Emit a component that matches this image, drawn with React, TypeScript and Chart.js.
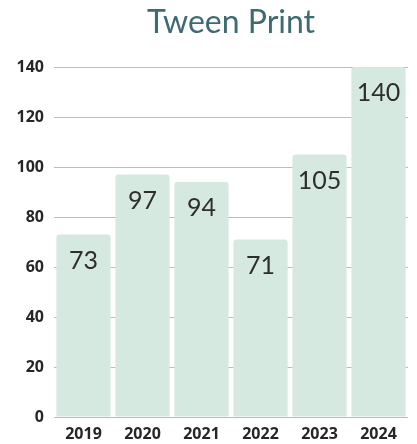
import React, { useEffect, useRef } from "react";
import { Chart, registerables } from "chart.js";

Chart.register(...registerables);

const years = ["2019", "2020", "2021", "2022", "2023", "2024"];
const printCounts = [73, 97, 94, 71, 105, 140];
const yTicks = [0, 20, 40, 60, 80, 100, 120, 140];

const TITLE = "Tween Print";
const BAR_COLOR = "#d5e9e1";
const TITLE_COLOR = "#3e6a72";

const titlePlugin = {
  id: "centredTitle",
  afterDraw(chart: any) {
    const { ctx, chartArea } = chart;
    ctx.save();
    ctx.font = "400 32px Lato, 'Noto Sans', sans-serif";
    ctx.fillStyle = TITLE_COLOR;
    ctx.textAlign = "center";
    ctx.textBaseline = "middle";
    ctx.fillText(TITLE, (chartArea.left + chartArea.right) / 2, 23);
    ctx.restore();
  },
};

const valueLabelPlugin = {
  id: "valueLabels",
  afterDatasetsDraw(chart: any) {
    const { ctx } = chart;
    const meta = chart.getDatasetMeta(0);
    ctx.save();
    ctx.font = "400 25px Lato, 'Noto Sans', sans-serif";
    ctx.fillStyle = "#2e2e2e";
    ctx.textAlign = "center";
    ctx.textBaseline = "middle";
    meta.data.forEach((bar: any, i: number) => {
      ctx.fillText(String(printCounts[i]), bar.x, bar.y + 26);
    });
    ctx.restore();
  },
};

export default function App() {
  const canvasRef = useRef<HTMLCanvasElement | null>(null);

  useEffect(() => {
    document.body.style.margin = "0";
    const canvas = canvasRef.current;
    if (!canvas) return;
    const chart = new Chart(canvas, {
      type: "bar",
      data: {
        labels: years,
        datasets: [
          {
            data: printCounts,
            backgroundColor: BAR_COLOR,
            borderRadius: { topLeft: 3, topRight: 3, bottomLeft: 0, bottomRight: 0 },
            borderSkipped: "bottom",
            barPercentage: 0.92,
            categoryPercentage: 1,
          },
        ],
      },
      options: {
        animation: false,
        responsive: false,
        maintainAspectRatio: false,
        layout: { padding: { top: 67, right: 9, left: 0, bottom: 0 } },
        plugins: {
          legend: { display: false },
          title: { display: false },
          tooltip: { enabled: false },
        },
        scales: {
          x: {
            grid: { display: false, drawTicks: false },
            border: { display: false },
            ticks: {
              padding: 8,
              color: "#262626",
              font: { family: "'Open Sans', sans-serif", size: 16, weight: "bold" },
            },
            afterFit: (s: any) => {
              s.height = 27;
            },
          },
          y: {
            min: 0,
            max: 140,
            afterBuildTicks: (s: any) => {
              s.ticks = yTicks.map((v) => ({ value: v }));
            },
            grid: { color: "#bdbdbd", lineWidth: 1, drawTicks: false },
            border: { display: false },
            ticks: {
              padding: 10,
              color: "#262626",
              font: { family: "'Open Sans', sans-serif", size: 16, weight: "bold" },
            },
            afterFit: (s: any) => {
              s.width = 54;
            },
          },
        },
      },
      plugins: [titlePlugin, valueLabelPlugin],
    });
    return () => chart.destroy();
  }, []);

  return (
    <div style={{ width: 417, height: 444 }}>
      <canvas ref={canvasRef} width={417} height={444} style={{ display: "block" }} />
    </div>
  );
}
